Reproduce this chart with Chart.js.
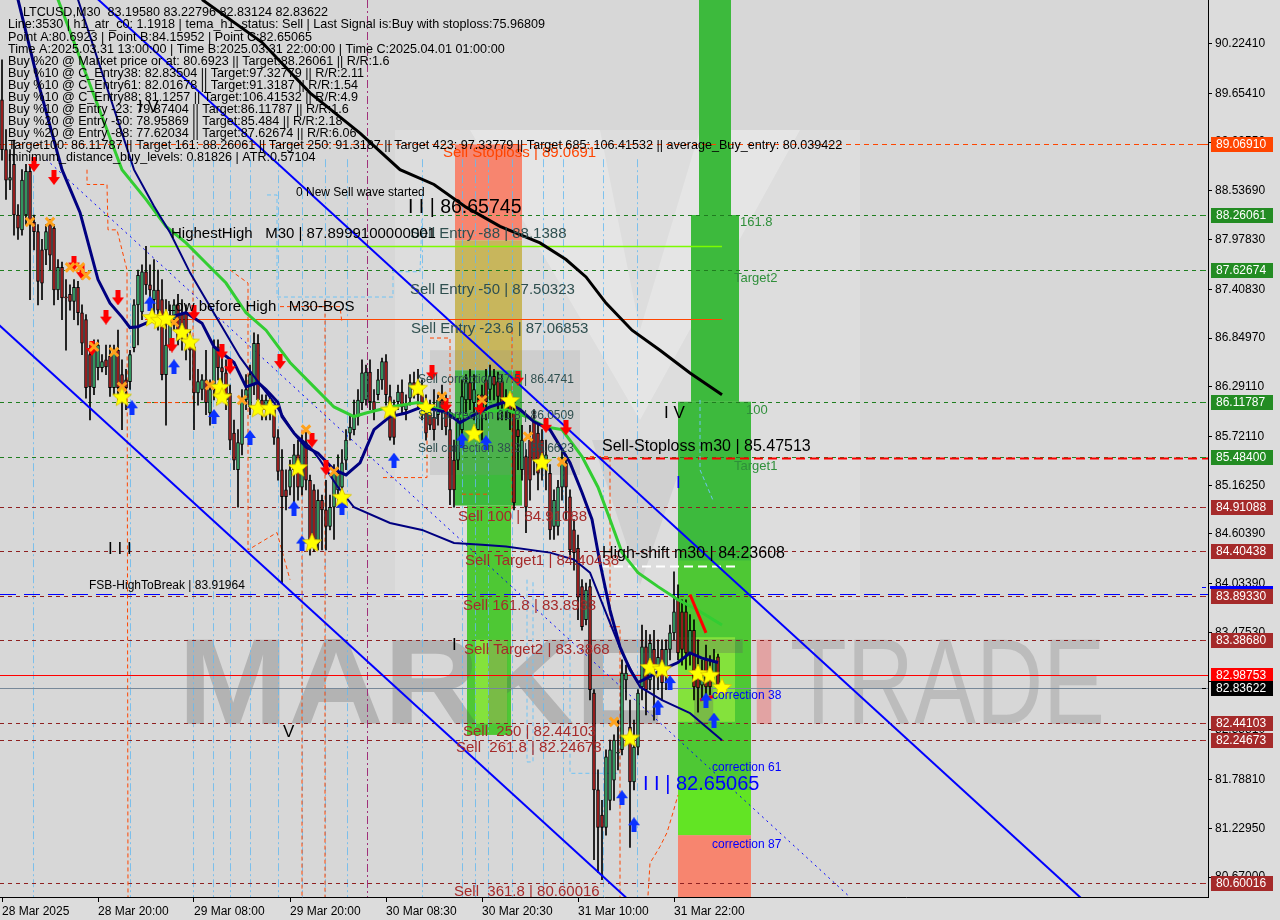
<!DOCTYPE html>
<html><head><meta charset="utf-8"><title>LTCUSD,M30</title>
<script src="https://cdn.jsdelivr.net/npm/chart.js@4.4.1/dist/chart.umd.min.js"></script>
<style>html,body{margin:0;padding:0;background:#dcdcdc;overflow:hidden}canvas{display:block}</style>
</head><body>
<canvas id="c" width="1280" height="920"></canvas>
<script>
// ---------------- DATA ----------------
const symbolTitle = "LTCUSD,M30  83.19580 83.22796 82.83124 82.83622";
const timeLabels = ["28 Mar 2025","28 Mar 20:00","29 Mar 08:00","29 Mar 20:00","30 Mar 08:30","30 Mar 20:30","31 Mar 10:00","31 Mar 22:00"];
const timeTickBars = [0,24,48,72,96,120,144,168];
const priceTicks = [90.22410,89.65410,89.09550,88.53690,87.97830,87.40830,86.84970,86.29110,85.72110,85.16250,84.60390,84.03390,83.47530,82.91670,82.35810,81.78810,81.22950,80.67000];

const opens = [
89.58,89.01,88.66,88.84,88.26,88.09,88.26,88.76,88.18,88.07,
87.86,87.86,88.15,88.11,87.40,87.66,87.32,87.35,87.27,87.43,
87.14,87.06,86.66,86.28,86.51,86.51,86.60,86.64,86.28,86.71,
86.43,86.37,86.35,86.74,87.23,87.15,87.61,87.46,87.29,87.40,
87.29,86.43,86.77,87.06,87.23,87.12,87.14,86.86,86.75,86.22,
86.26,86.37,85.99,86.26,86.75,86.51,86.45,86.22,85.76,85.34,
85.63,86.14,86.06,86.31,86.79,86.14,86.03,86.14,86.03,85.71,
85.34,85.11,85.14,85.34,85.51,85.14,85.65,85.22,85.11,84.50,
84.99,84.88,84.69,84.91,85.11,85.14,85.45,85.76,85.80,85.95,
86.11,86.14,86.46,86.12,86.20,86.37,86.58,86.18,86.03,86.12,
86.23,86.03,86.16,86.34,86.26,86.20,85.99,85.99,85.94,85.97,
86.14,86.06,85.80,85.45,85.45,85.80,86.14,86.34,86.11,85.80,
86.20,86.37,86.26,86.41,86.35,86.35,86.14,86.08,85.99,85.80,
85.34,85.49,85.68,85.91,85.76,85.68,85.37,85.30,84.69,84.69,
85.14,85.42,85.03,84.65,84.44,84.00,83.62,84.00,82.78,81.67,
81.38,81.24,81.55,81.78,82.09,82.13,82.93,82.39,81.76,82.16,
82.85,83.31,82.93,83.28,83.05,83.28,83.05,83.28,83.47,83.85,
83.71,83.71,83.24,83.50,83.01,82.87,83.16,82.93,82.99,83.1958];
const highs = [
90.04,89.24,89.01,89.12,88.38,88.78,88.84,88.84,88.26,88.15,
87.98,88.15,88.21,88.15,87.75,87.72,87.52,87.46,87.52,87.50,
87.23,87.12,86.77,86.83,86.83,86.66,86.77,86.77,86.77,86.94,
86.60,86.49,86.71,87.29,87.63,87.69,87.90,87.69,87.75,87.63,
87.52,87.29,87.23,87.29,87.35,87.29,87.23,86.94,86.83,86.49,
86.43,86.71,86.37,86.83,86.83,86.66,86.60,86.31,85.91,85.80,
86.26,86.43,86.54,86.91,86.89,86.20,86.20,86.18,86.08,85.80,
85.57,85.34,85.45,85.63,85.68,85.74,85.80,85.28,85.17,85.11,
85.05,85.22,85.05,85.40,85.51,85.57,85.80,85.97,86.14,86.26,
86.60,86.54,86.60,86.26,86.49,86.62,86.66,86.31,86.14,86.31,
86.37,86.20,86.43,86.46,86.49,86.37,86.20,86.14,86.26,86.20,
86.31,86.20,86.03,85.68,85.97,86.37,86.43,86.49,86.43,86.20,
86.31,86.49,86.54,86.49,86.46,86.43,86.26,86.20,86.08,85.91,
85.85,85.57,85.85,86.03,85.85,85.80,85.68,85.40,85.11,85.22,
85.57,85.51,85.11,84.77,84.59,84.08,84.04,84.08,82.82,81.90,
81.55,82.13,82.24,82.30,82.47,83.16,83.10,82.70,82.47,82.82,
83.56,83.50,83.45,83.50,83.39,83.39,83.39,83.56,84.17,84.02,
83.85,83.85,83.68,83.62,83.39,83.16,83.33,83.21,83.28,83.22796];
const lows = [
88.89,88.44,88.55,88.03,87.98,88.03,88.15,87.29,87.86,87.23,
87.29,87.69,87.63,87.23,87.29,87.06,86.71,87.17,87.06,87.00,
86.66,86.16,85.91,86.20,86.37,86.46,86.43,86.18,86.20,86.14,
85.80,86.03,86.26,86.69,86.77,87.06,87.35,87.17,87.06,86.94,
86.37,85.85,86.71,86.94,86.77,86.71,86.60,86.37,85.80,86.08,
86.14,85.97,85.85,86.14,86.37,86.20,86.03,85.57,85.34,84.91,
85.51,86.03,85.97,86.20,86.03,85.91,85.91,85.91,85.63,85.22,
84.04,84.88,85.05,84.94,84.99,85.05,85.11,84.36,84.40,84.42,
84.42,84.42,84.65,84.54,84.99,85.05,85.34,85.68,85.74,85.85,
86.03,86.08,86.03,85.91,86.14,86.26,86.08,85.68,85.63,86.03,
85.97,85.91,86.08,86.16,86.03,85.91,85.68,85.80,85.68,85.85,
85.80,85.74,84.94,84.91,85.34,85.68,85.97,86.03,85.91,85.68,
85.68,85.91,86.14,86.14,85.91,85.91,85.91,85.80,84.88,85.34,
85.22,84.62,84.99,85.28,85.11,85.22,85.11,84.54,84.54,84.59,
84.99,84.77,84.36,84.19,83.62,83.50,83.56,82.70,80.87,80.72,
80.64,81.15,81.44,81.55,81.90,82.07,82.70,81.01,81.67,82.07,
82.70,82.53,82.82,82.47,82.82,82.70,82.82,83.16,83.39,83.16,
83.10,83.05,83.10,82.70,82.56,82.70,82.70,82.76,82.93,82.83124];
const closes = [
89.01,88.66,88.69,88.26,88.11,88.66,88.76,88.18,88.07,87.50,
87.48,88.07,87.80,87.40,87.66,87.31,87.31,87.27,87.43,87.14,
86.79,86.28,86.29,86.71,86.77,86.58,86.52,86.28,86.71,86.28,
86.28,86.28,86.66,87.23,87.57,87.61,87.46,87.40,87.40,87.17,
86.43,86.77,87.06,87.23,86.83,86.89,86.86,86.71,86.22,86.35,
86.37,86.11,86.26,86.75,86.51,86.46,86.14,85.68,85.45,85.65,
86.14,86.26,86.43,86.79,86.14,86.03,86.14,86.03,85.71,85.32,
85.03,85.03,85.34,85.51,85.14,85.65,85.22,84.46,84.50,84.99,
84.88,84.69,84.91,85.30,85.30,85.42,85.68,85.83,85.95,86.14,
86.45,86.46,86.12,86.03,86.37,86.58,86.20,85.71,85.71,86.23,
86.06,86.08,86.34,86.26,86.20,86.08,85.76,85.85,85.80,86.14,
86.03,85.83,85.11,85.11,85.88,86.18,86.34,86.14,86.26,86.03,
85.99,86.12,86.41,86.31,86.18,86.11,86.03,85.99,84.96,85.72,
85.68,84.91,85.22,85.45,85.30,85.37,85.51,84.65,84.99,85.14,
85.45,85.14,84.42,84.39,83.88,83.54,83.96,82.82,81.67,81.24,
81.24,82.05,82.13,82.24,82.10,83.01,83.01,81.76,82.16,82.78,
83.31,82.82,83.35,83.05,83.19,82.90,83.28,83.47,83.71,83.24,
83.28,83.24,83.50,82.85,82.84,82.93,82.85,82.85,83.14,82.83622];

// indicator lines: [bar, price]
const maFast = [[4,90.73],[9.5,89.70],[15,88.78],[19.5,88.29],[24,87.52],[27,87.25],[30,87.09],[32,86.97],[34,86.98],[37,87.04],[42,87.09],[46,87.14],[50,87.02],[53,86.75],[58,86.57],[61,86.29],[64,86.34],[66,86.26],[69,86.11],[70,85.95],[73,85.76],[76,85.60],[79,85.53],[83,85.34],[86,85.28],[89.5,85.42],[93,85.80],[97,85.95],[101,85.99],[105,86.06],[108,86.03],[111,86.00],[114.5,85.88],[118,85.97],[122,86.06],[126,86.12],[129.5,86.03],[133,85.89],[137,85.80],[142,85.42],[145,85.08],[147.5,84.77],[149.5,84.27],[152,83.73],[154.5,83.31],[157,83.05],[159,82.90],[162,82.97],[165,83.05],[169,83.13],[172,83.24],[175,83.18],[179,83.13]];
const maMid = [[19,90.73],[33,88.78],[38,88.36],[42,88.06],[47,87.60],[51,87.29],[55,86.98],[59.5,86.63],[63,86.41],[68,86.11],[73,85.76],[77,85.60],[79.5,85.45],[84,85.14],[88,84.91],[97,84.73],[105,84.65],[113,84.50],[120,84.48],[126,84.46],[137,84.39],[143,84.31],[147,84.16],[151,83.70],[155,83.24],[159.5,82.85],[165,82.70],[172,82.55],[180,82.24]];
const maSlow = [[14,90.73],[30,88.78],[36,88.44],[41,88.13],[46,87.94],[51,87.71],[56,87.48],[61,87.14],[66,86.94],[72,86.57],[78,86.29],[83,86.06],[88,85.95],[91,85.99],[97,86.06],[104,86.11],[109.5,86.03],[114,85.95],[126,86.03],[131,85.95],[136,85.83],[140,85.80],[145,85.49],[149,85.14],[152,84.77],[155,84.39],[159,84.16],[164,84.00],[169,83.85],[174,83.73],[180,83.56]];
const maLong = [[50,90.73],[65,90.24],[77,89.66],[89.5,89.20],[99.5,88.78],[108,88.61],[116,88.35],[124.5,88.13],[134.5,87.94],[141,87.75],[146,87.55],[151,87.25],[157.5,86.94],[164.5,86.71],[172,86.45],[180,86.20]];
const channelUpper = [[20,90.90],[275,80.21]];
const channelLower = [[-1,87.01],[159.5,80.29]];
const channelMid = [[11,88.90],[212,80.44]];
const bosLine = [[172,83.91],[176,83.47]];
const bosLine2 = [[174.5,82.70],[177.75,82.74]];

// signal markers: [bar, price]
const starPts = [[30,86.18],[37.5,87.09],[39.5,87.06],[41,87.08],[45,86.92],[47,86.81],[54.5,86.29],[55,86.18],[64,86.05],[67,86.05],[74,85.37],[77.5,84.51],[85,85.03],[97,86.03],[104,86.28],[106,86.06],[118,85.76],[127,86.14],[135,85.43],[157,82.27],[162,83.08],[165,83.06],[174,83.01],[177,82.99],[180,82.85]];
const crossPts = [[7,88.18],[12,88.18],[17,87.66],[19.5,87.66],[21,87.57],[23,86.75],[28,86.69],[30,86.29],[43,87.03],[52,86.31],[60,86.14],[76,85.80],[83,85.32],[110,86.18],[120,86.14],[131.5,85.72],[140,85.43],[153,82.45]];
const sellArrowPts = [[8,88.84],[13,88.69],[18,87.71],[20,87.60],[22.5,86.73],[26,87.09],[29,87.31],[42.5,86.77],[48,87.14],[55,86.69],[57,86.52],[69.5,86.58],[77.5,85.68],[81,85.36],[107.5,86.45],[111,86.08],[119.5,86.05],[129,86.39],[136,85.85],[141,85.82]];
const buyArrowPts = [[32.5,86.05],[37,87.25],[43,86.52],[53,85.95],[62,85.71],[73,84.90],[75,84.50],[85,84.91],[98,85.45],[115,85.68],[121,85.65],[155,81.58],[158,81.27],[164,82.62],[167,82.90],[176,82.70],[178,82.47]];

// stepped envelope segments [bar, price]
const orangeSegs = [
 [[21.25,88.78],[21.25,88.61],[26.25,88.61],[26.5,88.09],[28.75,88.09],[31.25,87.63],[31.5,80.44]],
 [[36.25,86.11],[47.75,86.11],[47.75,87.90]],
 [[57,87.63],[61.5,87.48],[61.5,84.42],[68.75,84.62],[72,84.08]],
 [[69.5,87.21],[84.5,87.21],[85,87.02]],
 [[75,85.80],[75,80.44]],
 [[80.75,87.29],[80.75,80.44]],
 [[95.25,85.25],[106.25,85.25],[106.25,85.88]],
 [[107,86.85],[112,86.85],[112,85.80]],
 [[115,85.06],[121.25,85.06]],
 [[127.5,86.94],[127.5,84.88]],
 [[147,85.49],[152,85.49],[152,83.54],[154.5,83.54],[154.5,80.44]],
 [[161.5,80.46],[162,80.83],[164.5,81.02],[166.25,81.18],[167.75,81.41],[169,81.61]]
];
const lightBlueSegs = [
 [[66.25,88.49],[68.75,88.49],[68.75,87.32],[97.75,87.32],[97.75,87.61],[104.5,87.61],[105,88.21]],
 [[131.25,84.08],[131.25,81.99],[132.75,81.99],[132.75,84.08]],
 [[142,83.85],[142,81.86],[154.5,81.86],[154.5,82.82]],
 [[174.5,86.14],[174.5,85.34],[177.75,84.99]]
];
const sessionBars = [7.75,32,47.75,52.75,57,62,69,75,80.75,86.25,105,115,118.25,121.5,127.5,135.25,140.25,150.25,158.75];
const dayBar = 91.25;

// horizontal levels
const greenLevels = [88.26061,87.62674,86.11787,85.48400];
const brownLevels = [84.91088,84.40438,83.89330,83.38680,82.44103,82.24673,80.60016];
const stopLevel = 89.06910;
const fsbLevel = 83.91964;
const askLevel = 82.98753;
const bidLevel = 82.83622;
const highestHigh = {price:87.8999, from:37, to:180};
const lowBeforeHigh = {price:87.06853, from:35.75, to:180};
const sellStopM30 = {price:85.47513, from:146, to:301.5};
const highShift = {price:84.23608, from:149.5, to:184};

// zones: [fromBar, toBar, topPrice, bottomPrice]
const zoneRanges = [
 [113.25,130,89.07,87.97],[113.25,130,87.97,86.48],[113.25,130,86.48,84.93],[116.25,127.25,84.93,82.30],[118.25,126.25,83.39,82.43],
 [174.25,182.25,90.73,88.26],[172.25,184.25,88.26,86.118],[169,187.25,86.118,81.15],[169,187.25,86.118,84.30],[169,183.25,83.42,82.45],[169,187.25,81.67,81.15],[169,187.25,81.15,80.44],
 [107,144.5,86.71,85.28]];
const zoneKinds = ['sl','khaki','green','green2','lime','green','green','green2','green','lime','lime2','sl','gray'];

// right axis flags
const flagPrices = [89.06910,88.26061,87.62674,86.11787,85.48400,84.91088,84.40438,83.89330,83.38680,82.98753,82.83622,82.44103,82.24673,80.60016];
const flagKinds = ['stop','tp','tp','tp','tp','lvl','lvl','lvl','lvl','ask','bid','lvl','lvl','lvl'];

// chart annotations: text, bar, price, kind
const annoTexts = ["0 New Sell wave started","I I | 86.65745","Sell Entry -88 | 88.1388","HighestHigh   M30 | 87.8999100000001","Sell Entry -50 | 87.50323","Sell Entry -23.6 | 87.06853","Low before High   M30-BOS","Sell Stoploss | 89.0691",
 "Sell correction 87.5 | 86.4741","Sell correction 61.8 | 86.0509","Sell correction 38.2 | 85.6623",
 "Sell 100 | 84.91088","Sell Target1 | 84.40438","Sell 161.8 | 83.8933","Sell Target2 | 83.3868","Sell  250 | 82.44103","Sell  261.8 | 82.24673","Sell  361.8 | 80.60016",
 "FSB-HighToBreak | 83.91964","I I I","I V","V","I","I V","I","I I | 82.65065","Sell-Stoploss m30 | 85.47513","High-shift m30 | 84.23608",
 "161.8","Target2","100","Target1","correction 38","correction 61","correction 87"];
const annoBars = [73.5,101.5,102,42.25,102,102.25,41.25,110.25, 104,104,104, 114,115.75,115.25,115.5,115.25,113.5,113, 21.75,26.5,34,70.25,112.5,165.5,168.5,160.25,150,150, 184.5,183,186,183,177.5,177.5,177.5];
const annoPrices = [88.52,88.35,88.04,88.04,87.40,86.96,87.21,88.97, 86.37,85.96,85.58, 84.80,84.29,83.78,83.27,82.33,82.15,80.50, 84.01,84.43,89.49,82.33,83.33,85.99,85.19,81.73,85.60,84.38, 88.17,87.53,86.02,85.38,82.75,81.93,81.04];
const annoKinds = ['small','wave','entry','big','entry','entry','big','stop', 'corr','corr','corr', 'sell','sell','sell','sell','sell','sell','sell', 'small','roman','roman','roman','roman','roman','romanBlue','waveBlue','big16','big16', 'tgt','tgt','tgt','tgt','cb','cb','cb'];

const infoLines = [
"Line:3530 | h1_atr_c0: 1.1918 | tema_h1_status: Sell | Last Signal is:Buy with stoploss:75.96809",
"Point A:80.6923 | Point B:84.15952 | Point C:82.65065",
"Time A:2025.03.31 13:00:00 | Time B:2025.03.31 22:00:00 | Time C:2025.04.01 01:00:00",
"Buy %20 @ Market price or at: 80.6923 || Target:88.26061 || R/R:1.6",
"Buy %10 @ C_Entry38: 82.83504 || Target:97.32779 || R/R:2.11",
"Buy %10 @ C_Entry61: 82.01678 || Target:91.3187 || R/R:1.54",
"Buy %10 @ C_Entry88: 81.1257 || Target:106.41532 || R/R:4.9",
"Buy %10 @ Entry -23: 79.87404 || Target:86.11787 || R/R:1.6",
"Buy %20 @ Entry -50: 78.95869 || Target:85.484 || R/R:2.18",
"Buy %20 @ Entry -88: 77.62034 || Target:87.62674 || R/R:6.06",
"Target100: 86.11787 || Target 161: 88.26061 || Target 250: 91.3187 || Target 423: 97.33779 || Target 685: 106.41532 || average_Buy_entry: 80.039422",
"minimum_distance_buy_levels: 0.81826 | ATR:0.57104"];
const watermark = ["MARKET","I","TRADE"];

// ---------------- STYLES ----------------
const FF = "'Liberation Sans', Arial, sans-serif";
const zoneColors = {sl:'#f7856f',khaki:'#c8b65c',green:'#3dba3d',green2:'#4ec834',lime:'#84e23c',lime2:'#62e424',gray:'rgba(140,140,140,0.18)'};
const flagColors = {stop:'#ff4500',tp:'#238c23',lvl:'#a52a2a',ask:'#ff0000',bid:'#000000'};
const annoStyles = {
 small:['12px '+FF,'#000'], wave:['19.5px '+FF,'#000'], waveBlue:['20px '+FF,'#0000ff'], entry:['15px '+FF,'#2f4f4f'], big:['15px '+FF,'#000'], big16:['16px '+FF,'#000'],
 stop:['15px '+FF,'#ff4500'], corr:['12px '+FF,'#2f4f4f'], sell:['15px '+FF,'#a52a2a'], roman:['17px '+FF,'#000'], romanBlue:['17px '+FF,'#0000ff'],
 tgt:['13px '+FF,'#2f8f3a'], cb:['12px '+FF,'#0000ff']};

Chart.defaults.font.family = FF;
Chart.defaults.font.size = 12;
Chart.defaults.color = '#000';

function starCanvas(r){const s=Math.ceil(r*2+2);const c=document.createElement('canvas');c.width=c.height=s;const g=c.getContext('2d');g.translate(s/2,s/2+1);g.beginPath();for(let k=0;k<10;k++){const rr=k%2?r*0.45:r;const a=-Math.PI/2+k*Math.PI/5;g.lineTo(rr*Math.cos(a),rr*Math.sin(a));}g.closePath();g.fillStyle='#ffff00';g.fill();g.strokeStyle='#d8c000';g.lineWidth=0.8;g.stroke();return c;}
function arrowCanvas(color,down){const w=12,h=15;const c=document.createElement('canvas');c.width=w;c.height=h;const g=c.getContext('2d');g.fillStyle=color;g.beginPath();
 if(down){g.moveTo(3.5,0);g.lineTo(8.5,0);g.lineTo(8.5,7);g.lineTo(12,7);g.lineTo(6,15);g.lineTo(0,7);g.lineTo(3.5,7);}
 else{g.moveTo(3.5,15);g.lineTo(8.5,15);g.lineTo(8.5,8);g.lineTo(12,8);g.lineTo(6,0);g.lineTo(0,8);g.lineTo(3.5,8);}
 g.closePath();g.fill();return c;}
const starImg = starCanvas(10), downImg = arrowCanvas('#ff0000',true), upImg = arrowCanvas('#0a32ff',false);

const P = a => a.map(p => ({x:p[0], y:p[1]}));
const lineDs = (arr, color, width, order, dash) => ({type:'line', data:P(arr), borderColor:color, borderWidth:width, pointRadius:0, tension:0, order:order, borderDash:dash||[], fill:false});
const markDs = (arr, style, order, extra) => Object.assign({type:'line', data:P(arr), showLine:false, pointStyle:style, pointRadius:8, order:order}, extra||{});

const wickData = opens.map((o,i)=>({x:i, y:[lows[i], highs[i]]}));
const bodyData = opens.map((o,i)=>({x:i, y:[Math.min(o,closes[i]), Math.max(o,closes[i])]}));
const bodyColors = opens.map((o,i)=> closes[i] >= o ? '#3cb371' : '#b22222');

const datasets = [
 markDs(starPts, starImg, 1),
 markDs(crossPts, 'crossRot', 2, {pointRadius:6, pointBorderWidth:3, pointBorderColor:'#ffa21c', pointBackgroundColor:'#ffa21c'}),
 markDs(sellArrowPts, downImg, 2),
 markDs(buyArrowPts, upImg, 2),
 lineDs(bosLine, '#ff0000', 3, 3),
 lineDs(bosLine2, '#ff0000', 3, 3),
 lineDs(maFast, '#000080', 3, 4),
 lineDs(maMid, '#000080', 2, 4),
 lineDs(maSlow, '#32cd32', 3, 4),
 lineDs(maLong, '#000000', 3, 4),
 lineDs(channelUpper, '#0000ff', 2, 4),
 lineDs(channelLower, '#0000ff', 2, 4),
 lineDs(channelMid, '#0000ff', 1, 9, [2,4]),
 {type:'bar', data:bodyData, backgroundColor:bodyColors, borderColor:'#000', borderWidth:1, borderSkipped:false, barThickness:3, minBarLength:1, grouped:false, order:5},
 {type:'bar', data:wickData, backgroundColor:'#000', borderWidth:0, barThickness:1, grouped:false, order:6}
];
orangeSegs.forEach(s => datasets.push(lineDs(s, '#ff4500', 1, 9, [4,3])));
lightBlueSegs.forEach(s => datasets.push(lineDs(s, '#6ec3f5', 1, 9, [4,3])));

const zeroPad = s => { s.paddingLeft = 0; s.paddingRight = 0; s.paddingTop = 0; s.paddingBottom = 0; };

const overlay = {
 id:'overlay',
 beforeDraw(chart){
  const c=chart.ctx, a=chart.chartArea;
  c.save();
  c.fillStyle='#dcdcdc'; c.fillRect(0,0,chart.width,chart.height);
  c.fillStyle='#d7d7d7'; c.fillRect(a.left,a.top,a.right-a.left,a.bottom-a.top);
  c.fillStyle='rgba(255,255,255,0.16)';
  c.beginPath(); c.moveTo(395,130); c.lineTo(860,130); c.lineTo(860,600); c.lineTo(395,600); c.closePath(); c.fill();
  c.fillStyle='rgba(255,255,255,0.25)';
  c.beginPath(); c.moveTo(470,130); c.lineTo(600,130); c.lineTo(640,330); c.lineTo(700,130); c.lineTo(800,130); c.lineTo(640,420); c.closePath(); c.fill();
  c.fillStyle='rgba(150,150,150,0.18)';
  c.beginPath(); c.moveTo(592,440); c.lineTo(690,440); c.lineTo(640,585); c.closePath(); c.fill();
  c.restore();
 },
 beforeDatasetsDraw(chart){
  const c=chart.ctx, a=chart.chartArea, xs=chart.scales.x, ys=chart.scales.y;
  const X=v=>xs.getPixelForValue(v), Y=v=>ys.getPixelForValue(v);
  c.save();
  c.beginPath(); c.rect(a.left,a.top,a.right-a.left,a.bottom-a.top); c.clip();
  zoneRanges.forEach((z,k)=>{ c.fillStyle=zoneColors[zoneKinds[k]]; const x0=X(z[0]), x1=X(z[1]), y0=Y(z[2]), y1=Y(z[3]); c.fillRect(x0,y0,x1-x0,y1-y0); });
  const wmBase = Y(82.43);
  const fitText=(s,font,color,x0,x1)=>{ c.font=font; const w=c.measureText(s).width; c.save(); c.translate(x0,wmBase); c.scale((x1-x0)/w,1); c.fillStyle=color; c.textBaseline='alphabetic'; c.textAlign='left'; c.fillText(s,0,0); c.restore(); };
  fitText(watermark[0], 'bold 123px '+FF, 'rgba(95,95,95,0.30)', X(44), X(185.5));
  fitText(watermark[1], 'bold 123px '+FF, 'rgba(235,120,120,0.55)', X(187), X(194));
  fitText(watermark[2], '123px '+FF, 'rgba(120,120,120,0.28)', X(197), X(275.75));
  c.lineWidth=1;
  c.setLineDash([8,3,2,3]); c.strokeStyle='rgba(100,185,240,0.8)';
  sessionBars.forEach(b=>{ const x=Math.round(X(b))+0.5; c.beginPath(); c.moveTo(x,Y(88.9)); c.lineTo(x,a.bottom); c.stroke(); });
  c.strokeStyle='#a0307a'; { const x=Math.round(X(dayBar))+0.5; c.beginPath(); c.moveTo(x,a.top); c.lineTo(x,a.bottom); c.stroke(); }
  const hl=(p,color,dash,w,x0,x1)=>{ const y=Math.round(Y(p))+0.5; c.setLineDash(dash); c.strokeStyle=color; c.lineWidth=w; c.beginPath(); c.moveTo(x0,y); c.lineTo(x1,y); c.stroke(); };
  greenLevels.forEach(p=>hl(p,'#1f7d1f',[4,4],1,a.left,a.right));
  brownLevels.forEach(p=>hl(p,'#8e2020',[4,4],1,a.left,a.right));
  hl(stopLevel,'#ff4500',[5,4],1,a.left,a.right);
  hl(fsbLevel,'#0000ff',[16,8],1,a.left,a.right);
  hl(askLevel,'#ff0000',[],1,a.left,a.right);
  hl(bidLevel,'#778899',[],1,a.left,a.right);
  hl(highestHigh.price,'#7cfc00',[],1.5,X(highestHigh.from),X(highestHigh.to));
  hl(lowBeforeHigh.price,'#ff4500',[],1,X(lowBeforeHigh.from),X(lowBeforeHigh.to));
  hl(sellStopM30.price,'#ff0000',[9,5],2,X(sellStopM30.from),X(sellStopM30.to));
  hl(highShift.price,'#ffffff',[9,5],2,X(highShift.from),X(highShift.to));
  c.restore();
 },
 afterDatasetsDraw(chart){
  const c=chart.ctx, a=chart.chartArea, xs=chart.scales.x, ys=chart.scales.y;
  const X=v=>xs.getPixelForValue(v), Y=v=>ys.getPixelForValue(v);
  c.save();
  c.beginPath(); c.rect(a.left,a.top,a.right-a.left,a.bottom-a.top); c.clip();
  c.textBaseline='middle'; c.textAlign='left';
  annoTexts.forEach((t,k)=>{ const st=annoStyles[annoKinds[k]]; c.font=st[0]; c.fillStyle=st[1]; c.fillText(t, X(annoBars[k]), Y(annoPrices[k])); });
  c.font='12.6px '+FF; c.fillStyle='#000';
  c.fillText(symbolTitle, 23, 13);
  infoLines.forEach((t,k)=>c.fillText(t, 8, 25 + k*12.05));
  c.restore();
 },
 afterDraw(chart){
  const c=chart.ctx, a=chart.chartArea, ys=chart.scales.y;
  c.save();
  c.font='12px '+FF; c.textBaseline='middle'; c.textAlign='left';
  const yf=Math.round(ys.getPixelForValue(fsbLevel));
  c.fillStyle='#0000ff'; c.fillRect(a.right+2, yf-8, 63, 3); c.fillRect(a.right-6, yf-7, 4, 1);
  flagPrices.forEach((p,k)=>{
   const y=Math.round(ys.getPixelForValue(p)); const col=flagColors[flagKinds[k]];
   c.fillStyle=col; c.fillRect(a.right+3, y-7, 62, 15);
   c.fillRect(a.right-6, y, 4, 1);
   c.fillStyle='#ffffff'; c.fillText(p.toFixed(5), a.right+8, y+1);
  });
  c.restore();
 }
};

new Chart(document.getElementById('c'), {
 type:'bar',
 data:{datasets},
 plugins:[overlay],
 options:{
  responsive:false, animation:false, events:[],
  layout:{padding:0, autoPadding:false},
  plugins:{legend:{display:false}, tooltip:{enabled:false}},
  scales:{
   x:{type:'linear', min:-0.5, max:301.5, offset:false,
      grid:{display:true, drawOnChartArea:false, drawTicks:true, tickLength:5, color:'#000', offset:false},
      border:{display:true, color:'#000', width:1},
      ticks:{autoSkip:false, maxRotation:0, minRotation:0, align:'start', padding:2, color:'#000', font:{size:12}, callback:(v,i)=>timeLabels[i]},
      afterBuildTicks:s=>{ s.ticks = timeTickBars.map(v=>({value:v})); },
      afterFit:s=>{ s.height = 23; zeroPad(s); }},
   y:{type:'linear', position:'right', min:80.442, max:90.725,
      grid:{display:true, drawOnChartArea:false, drawTicks:true, tickLength:4, color:'#000'},
      border:{display:true, color:'#000', width:1},
      ticks:{autoSkip:false, padding:3, color:'#000', font:{size:12}, callback:v=>Number(v).toFixed(5)},
      afterBuildTicks:s=>{ s.ticks = priceTicks.map(v=>({value:v})); },
      afterFit:s=>{ s.width = 72; zeroPad(s); }}
  }
 }
});
</script>
</body></html>
